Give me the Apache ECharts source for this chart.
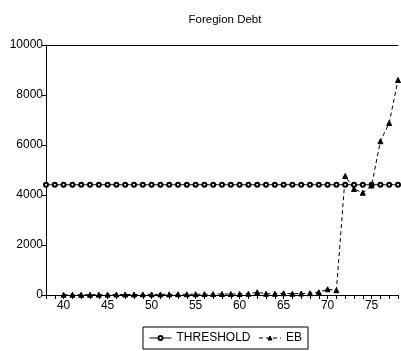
<!DOCTYPE html>
<html><head><meta charset="utf-8">
<script src="https://cdn.jsdelivr.net/npm/echarts@6/dist/echarts.min.js"></script>
<style>html,body{margin:0;padding:0;background:#fff}#c{width:401px;height:351px}</style>
</head><body><div id="c"></div>
<script>
const title = 'Foregion Debt';
const thresholdYears = [38,39,40,41,42,43,44,45,46,47,48,49,50,51,52,53,54,55,56,57,58,59,60,61,62,63,64,65,66,67,68,69,70,71,72,73,74,75,76,77,78];
const thresholdValue = 4410;
const ebYears = [40,41,42,43,44,45,46,47,48,49,50,51,52,53,54,55,56,57,58,59,60,61,62,63,64,65,66,67,68,69,70,71,72,73,74,75,76,77,78];
const ebValues = [10,10,10,10,15,15,20,20,20,25,25,25,25,30,30,30,35,35,40,40,40,50,110,50,50,70,50,60,70,110,230,190,4760,4240,4090,4380,6150,6880,8600];
const yTicks = [0,2000,4000,6000,8000,10000];

const chart = echarts.init(document.getElementById('c'));
const font = 'Liberation Sans, Arial, sans-serif';
chart.setOption({
  animation: false,
  title: {text: title, left: 225, top: 14, textAlign: 'center', padding: 0,
    textStyle: {fontFamily: font, fontSize: 11.5, fontWeight: 'normal', color: '#000'}},
  grid: {left: 46, right: 0, top: 45, bottom: 56, containLabel: false},
  legend: {
    bottom: 2, left: 143,
    itemWidth: 22, itemHeight: 5, itemGap: 8,
    padding: [5, 6, 5, 6],
    borderColor: '#000', borderWidth: 1,
    lineStyle: {width: 1},
    itemStyle: {borderWidth: 1},
    textStyle: {fontFamily: font, fontSize: 12, color: '#000'},
    data: ['THRESHOLD', 'EB']
  },
  xAxis: [{
    type: 'value', min: 38, max: 78, interval: 1,
    axisLine: {show: true, lineStyle: {color: '#000', width: 1}},
    axisTick: {show: true, length: 4, lineStyle: {color: '#000'}},
    axisLabel: {fontFamily: font, fontSize: 12, color: '#000', margin: 5,
      formatter: v => (v % 5 === 0 ? String(v) : '')},
    splitLine: {show: false}
  }, {
    type: 'value', position: 'top', min: 38, max: 78,
    axisLine: {show: true, lineStyle: {color: '#000', width: 1}},
    axisTick: {show: false}, axisLabel: {show: false}, splitLine: {show: false}
  }],
  yAxis: {
    type: 'value', min: yTicks[0], max: yTicks[yTicks.length-1], interval: 2000,
    axisLine: {show: true, lineStyle: {color: '#000', width: 1}},
    axisTick: {show: true, length: 4, lineStyle: {color: '#000'}},
    axisLabel: {fontFamily: font, fontSize: 12, color: '#000', margin: 3,
      formatter: v => String(v)},
    splitLine: {show: false}
  },
  series: [{
    name: 'THRESHOLD', type: 'line',
    data: thresholdYears.map(y => [y, thresholdValue]),
    symbol: 'emptyCircle', symbolSize: 4, showAllSymbol: true,
    lineStyle: {color: '#000', width: 1},
    itemStyle: {color: '#000', borderColor: '#000', borderWidth: 1}
  }, {
    name: 'EB', type: 'line',
    data: ebYears.map((y, i) => [y, ebValues[i]]),
    symbol: 'triangle', symbolSize: 5, showAllSymbol: true,
    lineStyle: {color: '#000', width: 1, type: [4, 3]},
    itemStyle: {color: '#000', borderColor: '#000'}
  }]
});
</script></body></html>
